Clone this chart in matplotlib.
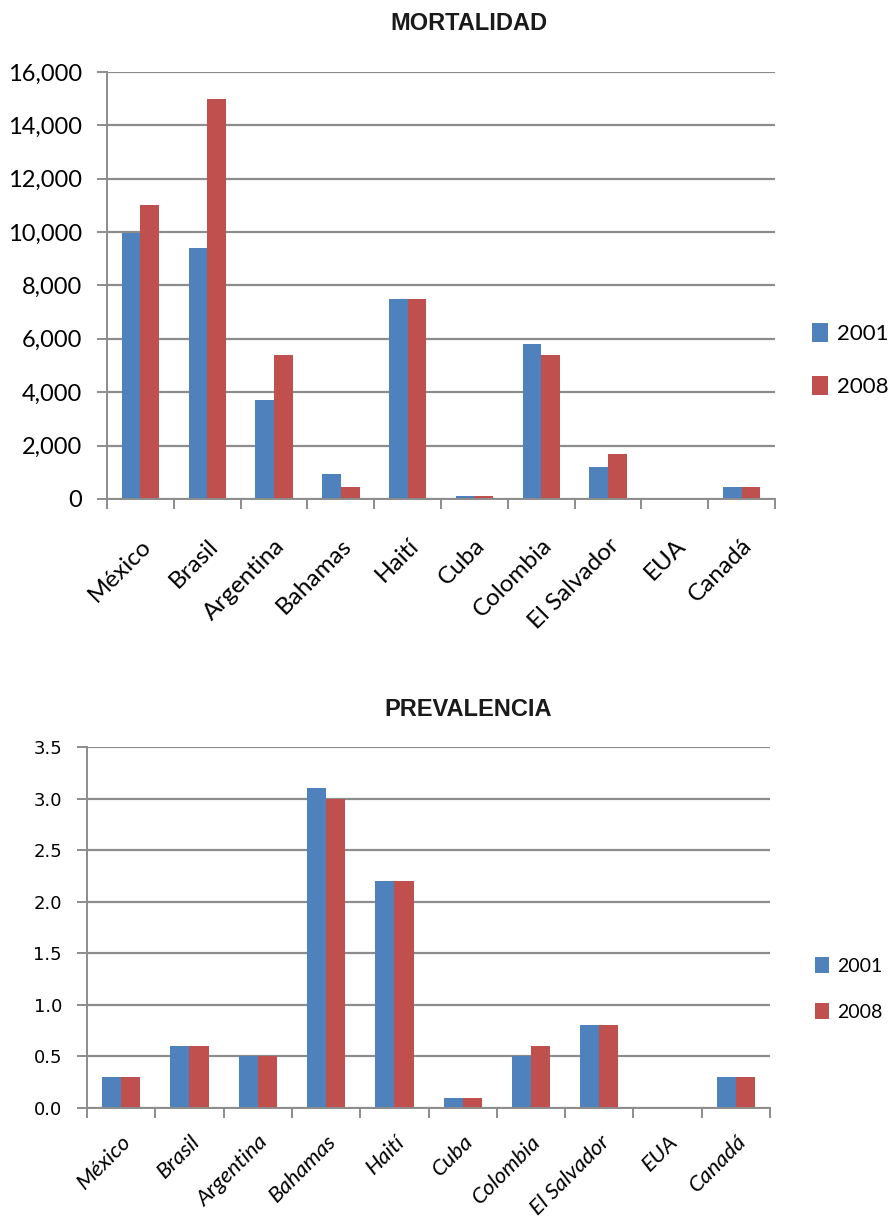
import matplotlib
matplotlib.use("Agg")
import matplotlib.pyplot as plt
import numpy as np
from matplotlib.ticker import FuncFormatter, FixedLocator

countries = ["México", "Brasil", "Argentina", "Bahamas", "Haití", "Cuba",
             "Colombia", "El Salvador", "EUA", "Canadá"]
series_names = ["2001", "2008"]

mort_2001 = [9950, 9400, 3700, 950, 7500, 100, 5800, 1200, 0, 450]
mort_2008 = [11000, 15000, 5400, 450, 7500, 100, 5400, 1700, 0, 450]

prev_2001 = [0.3, 0.6, 0.5, 3.1, 2.2, 0.1, 0.5, 0.8, 0.0, 0.3]
prev_2008 = [0.3, 0.6, 0.5, 3.0, 2.2, 0.1, 0.6, 0.8, 0.0, 0.3]

mort_ticks = [0, 2000, 4000, 6000, 8000, 10000, 12000, 14000, 16000]
prev_ticks = [0.0, 0.5, 1.0, 1.5, 2.0, 2.5, 3.0, 3.5]

BLUE = "#4F81BD"
RED = "#C0504D"
GRID = "#8C8C8C"

fig = plt.figure(figsize=(8.89, 12.22), dpi=100)

def draw(ax, v1, v2, ticks, title, fmt, ytick_font, xlab_font, xpad,
         leg_font, leg_pos, leg_spacing, title_y):
    n = len(countries)
    x = np.arange(n)
    w = 0.28
    ax.bar(x - w / 2, v1, width=w, color=BLUE, label=series_names[0], zorder=3)
    ax.bar(x + w / 2, v2, width=w, color=RED, label=series_names[1], zorder=3)
    ax.set_xlim(-0.5, n - 0.5)
    ax.set_ylim(ticks[0], ticks[-1])
    ax.yaxis.set_major_locator(FixedLocator(ticks))
    ax.yaxis.set_major_formatter(FuncFormatter(fmt))
    ax.grid(axis="y", color=GRID, linewidth=1.6, zorder=0)
    for s in ["top", "right"]:
        ax.spines[s].set_visible(False)
    for s in ["left", "bottom"]:
        ax.spines[s].set_color(GRID)
        ax.spines[s].set_linewidth(1.4)
    ax.spines["bottom"].set_zorder(4)
    # x ticks at category boundaries, labels at centers
    ax.set_xticks(np.arange(n + 1) - 0.5)
    ax.set_xticklabels([])
    ax.set_xticks(x, minor=True)
    ax.set_xticklabels(countries, minor=True, rotation=45, ha="right",
                       rotation_mode="anchor", **xlab_font)
    ax.tick_params(axis="x", which="minor", length=0, pad=xpad)
    ax.tick_params(axis="x", which="major", length=7, width=1.4, color=GRID)
    ax.tick_params(axis="y", length=7, width=1.4, color=GRID, pad=11)
    for lab in ax.get_yticklabels():
        lab.set(**ytick_font)
    fig.text(0.527, title_y, title, ha="center", va="center",
             fontsize=17, fontweight="bold", family="Liberation Sans",
             color="#1a1a1a")
    ax.legend(loc="center left", bbox_to_anchor=leg_pos, frameon=False,
              prop=leg_font, handlelength=0.75, handleheight=0.9,
              handletextpad=0.4, labelspacing=leg_spacing)

ax1 = fig.add_axes([0.1204, 0.5917, 0.7514, 0.3494])
draw(ax1, mort_2001, mort_2008, mort_ticks, "MORTALIDAD",
     lambda v, p: f"{int(v):,}",
     dict(fontsize=17, family="Lato", color="black"),
     dict(fontsize=17.5, family="Lato", color="black"), 26,
     dict(size=16, family="Lato"), (1.025, 0.325), 1.45,
     1 - 24 / 1222)

ax2 = fig.add_axes([0.0979, 0.0933, 0.7683, 0.2954])
draw(ax2, prev_2001, prev_2008, prev_ticks, "PREVALENCIA",
     lambda v, p: f"{v:.1f}",
     dict(fontsize=13, family="DejaVu Sans", color="black"),
     dict(fontsize=16, family="Lato", style="italic", color="black"), 17,
     dict(size=14, family="Lato"), (1.04, 0.33), 1.45,
     1 - 710 / 1222)

fig.savefig("out.png", dpi=100)
